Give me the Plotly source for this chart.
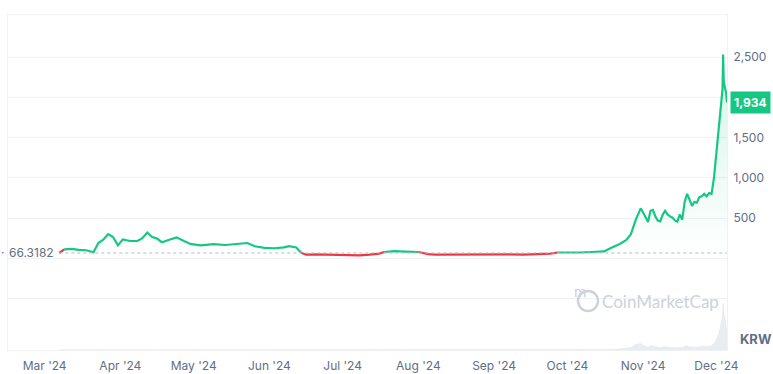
import plotly.graph_objects as go

# ---------------- data ----------------
dates = [
    "2024-03-07", "2024-03-09", "2024-03-12", "2024-03-15", "2024-03-18", "2024-03-21",
    "2024-03-23", "2024-03-25", "2024-03-27", "2024-03-29", "2024-03-31", "2024-04-02",
    "2024-04-05", "2024-04-08", "2024-04-10", "2024-04-12", "2024-04-14", "2024-04-16",
    "2024-04-18", "2024-04-21", "2024-04-24", "2024-04-27", "2024-04-30", "2024-05-04",
    "2024-05-09", "2024-05-14", "2024-05-19", "2024-05-23", "2024-05-26", "2024-05-30",
    "2024-06-03", "2024-06-07", "2024-06-09", "2024-06-12", "2024-06-14", "2024-06-16",
    "2024-06-20", "2024-06-25", "2024-06-30", "2024-07-04", "2024-07-08", "2024-07-12",
    "2024-07-16", "2024-07-18", "2024-07-22", "2024-07-27", "2024-08-01", "2024-08-05",
    "2024-08-08", "2024-08-14", "2024-08-20", "2024-08-26", "2024-09-01", "2024-09-07",
    "2024-09-13", "2024-09-19", "2024-09-24", "2024-09-27", "2024-10-01", "2024-10-06",
    "2024-10-11", "2024-10-16", "2024-10-19", "2024-10-22", "2024-10-25", "2024-10-27",
    "2024-10-29", "2024-10-31", "2024-11-01", "2024-11-02", "2024-11-03", "2024-11-04",
    "2024-11-05", "2024-11-06", "2024-11-07", "2024-11-08", "2024-11-09", "2024-11-10",
    "2024-11-11", "2024-11-12", "2024-11-13", "2024-11-14", "2024-11-15", "2024-11-16",
    "2024-11-17", "2024-11-18", "2024-11-19", "2024-11-20", "2024-11-21", "2024-11-22",
    "2024-11-23", "2024-11-24", "2024-11-25", "2024-11-26", "2024-11-27", "2024-11-28",
    "2024-11-29", "2024-11-30", "2024-12-01", "2024-12-02", "2024-12-03 00:00",
    "2024-12-03 12:00", "2024-12-03 18:00", "2024-12-04 00:00", "2024-12-04 12:00",
    "2024-12-05 00:00", "2024-12-05 08:00",
]
price = [
    66, 110, 118, 105, 100, 75,
    190, 230, 300, 265, 160, 235,
    215, 215, 250, 320, 265, 245,
    200, 230, 260, 215, 175, 160,
    175, 165, 175, 190, 150, 130,
    125, 135, 150, 135, 70, 45,
    48, 44, 40, 32, 36, 45,
    58, 78, 90, 84, 78, 52,
    46, 48, 44, 48, 46, 48,
    46, 48, 58, 72, 68, 72,
    78, 85, 130, 170, 225, 300,
    480, 620, 570, 500, 450, 590,
    600, 520, 470, 460, 540, 590,
    545, 520, 505, 470, 455, 545,
    480, 700, 800, 730, 650, 700,
    690, 760, 770, 800, 770, 810,
    800, 1000, 1300, 1600, 1900,
    2100, 2530, 2200, 2120,
    2050, 1934,
]
volume = [
    0.3, 0.5, 0.3, 0.3, 0.3, 0.3,
    0.5, 0.5, 0.5, 0.3, 0.3, 0.3,
    0.3, 0.3, 0.3, 0.5, 0.3, 0.3,
    0.3, 0.3, 0.3, 0.3, 0.3, 0.3,
    0.3, 0.3, 0.3, 0.3, 0.3, 0.3,
    0.3, 0.3, 0.3, 0.3, 0.3, 0.3,
    0.3, 0.3, 0.3, 0.3, 0.3, 0.3,
    0.3, 0.3, 0.3, 0.3, 0.3, 0.3,
    0.3, 0.3, 0.3, 0.3, 0.3, 0.3,
    0.3, 0.3, 0.3, 0.3, 0.3, 0.3,
    0.5, 0.5, 1, 2, 3, 5,
    12, 14, 10, 8, 6, 9,
    8, 6, 5, 5, 6, 7,
    6, 5, 5, 5, 4, 6,
    5, 8, 9, 7, 6, 6,
    6, 7, 7, 8, 7, 8,
    9, 14, 22, 35, 55,
    70, 100, 80, 65,
    50, 40,
]
baseline = 66.3182
last_label = "1,934"
month_ticks = ["2024-03-01", "2024-04-01", "2024-05-01", "2024-06-01", "2024-07-01",
               "2024-08-01", "2024-09-01", "2024-10-01", "2024-11-01", "2024-12-01"]
price_ticks = [-500, 0, 500, 1000, 1500, 2000, 2500]
price_tick_text = ["", "", "500", "1,000", "1,500", "", "2,500"]

GREEN = "#16c784"
RED = "#ea3943"
GRAY = "#616e85"
GRID = "#eff2f5"

# Full-window figure; the page's body margin is removed by the post script.
W, H = 773, 374
PL, PR, PT, PB = 8, 46, 15, 24
PW, PH = W - PL - PR, H - PT - PB


def px(xp):  # page x -> paper x
    return (xp - PL) / PW


def py(yp):  # page y -> paper y
    return (H - PB - yp) / PH


n = len(price)
green_y = [p if p >= baseline else None for p in price]
red_y = []
for i, p in enumerate(price):
    below = p < baseline
    prev_below = i > 0 and price[i - 1] < baseline
    next_below = i + 1 < n and price[i + 1] < baseline
    red_y.append(p if (below or prev_below or next_below) else None)

fig = go.Figure()

# volume (secondary axis)
fig.add_trace(go.Scatter(
    x=dates, y=volume, yaxis="y2", mode="lines",
    line=dict(color="rgba(207,214,228,0.6)", width=0.5),
    fill="tozeroy", fillcolor="rgba(207,214,228,0.45)", hoverinfo="skip",
))

# green price with gradient fill
fig.add_trace(go.Scatter(
    x=dates, y=green_y, mode="lines",
    line=dict(color=GREEN, width=2.2),
    fill="tozeroy",
    fillgradient=dict(type="vertical", start=0, stop=2500,
                      colorscale=[[0, "rgba(22,199,132,0)"], [1, "rgba(22,199,132,0.18)"]]),
    connectgaps=False,
))
fig.add_trace(go.Scatter(
    x=dates, y=red_y, mode="lines",
    line=dict(color=RED, width=2.2), connectgaps=False,
))

# baseline dotted
fig.add_shape(type="line", xref="x", yref="y", x0=dates[0], x1=dates[-1],
              y0=baseline, y1=baseline, line=dict(color="#b5bcc9", width=1, dash="dot"))

fig.add_annotation(xref="x", yref="y", x=dates[0], y=baseline, text=f"{baseline:g}",
                   showarrow=False, xanchor="right", xshift=-3,
                   font=dict(family="Inter, sans-serif", size=12, color=GRAY))
fig.add_annotation(xref="paper", yref="y", x=0, y=baseline, text="·",
                   showarrow=False, xanchor="right", xshift=-2,
                   font=dict(family="Inter, sans-serif", size=12, color=GRAY))

fig.add_annotation(xref="paper", yref="y", x=1, y=price[-1], text=f"<b>{last_label}</b>",
                   showarrow=False, xanchor="left", xshift=3, bgcolor=GREEN,
                   borderpad=3, font=dict(family="Inter, sans-serif", size=12, color="white"))

fig.add_annotation(xref="paper", yref="paper", x=1, y=0, text="<b>KRW</b>",
                   showarrow=False, xanchor="left", yanchor="bottom", xshift=11, yshift=1,
                   font=dict(family="Inter, sans-serif", size=13, color=GRAY))

# watermark
fig.add_annotation(xref="paper", yref="paper", x=px(600), y=py(301),
                   text="CoinMarketCap", showarrow=False, xanchor="left", yanchor="middle",
                   font=dict(family="Lato, sans-serif", size=17, color="#cdd2db"))
fig.add_shape(type="circle", xref="paper", yref="paper",
              x0=px(578), x1=px(598), y0=py(311), y1=py(291),
              line=dict(color="#cdd2db", width=2.5))
fig.add_annotation(xref="paper", yref="paper", x=px(588), y=py(302),
                   text="m", showarrow=False,
                   font=dict(family="Lato, sans-serif", size=15, color="#cdd2db"))

fig.update_layout(
    width=W, height=H,
    margin=dict(l=PL, r=PR, t=PT, b=PB, autoexpand=False),
    paper_bgcolor="white", plot_bgcolor="white",
    showlegend=False,
    font=dict(family="Inter, sans-serif", size=12, color=GRAY),
    xaxis=dict(
        range=["2024-02-15", "2024-12-05 08:00"],
        tickvals=month_ticks, tickformat="%b '%y",
        showgrid=False, zeroline=False,
        showline=True, linecolor=GRID, mirror=True,
        ticks="outside", ticklen=5, tickcolor="rgba(0,0,0,0)",
        tickfont=dict(size=12, color=GRAY),
    ),
    yaxis=dict(
        side="right", range=[-1139, 3022],
        tickvals=price_ticks, ticktext=price_tick_text,
        showgrid=True, gridcolor=GRID, zeroline=False,
        showline=True, linecolor=GRID, mirror=True,
        ticks="outside", ticklen=3, tickcolor="rgba(0,0,0,0)",
        tickfont=dict(size=12, color=GRAY),
    ),
    yaxis2=dict(overlaying="y", range=[0, 100 * 335 / 47], visible=False),
)

fig.write_html("out.html",
               config={"displayModeBar": False},
               post_script="document.body.style.margin='0';"
                           "document.documentElement.style.overflow='hidden';"
                           "document.body.style.overflow='hidden';")
